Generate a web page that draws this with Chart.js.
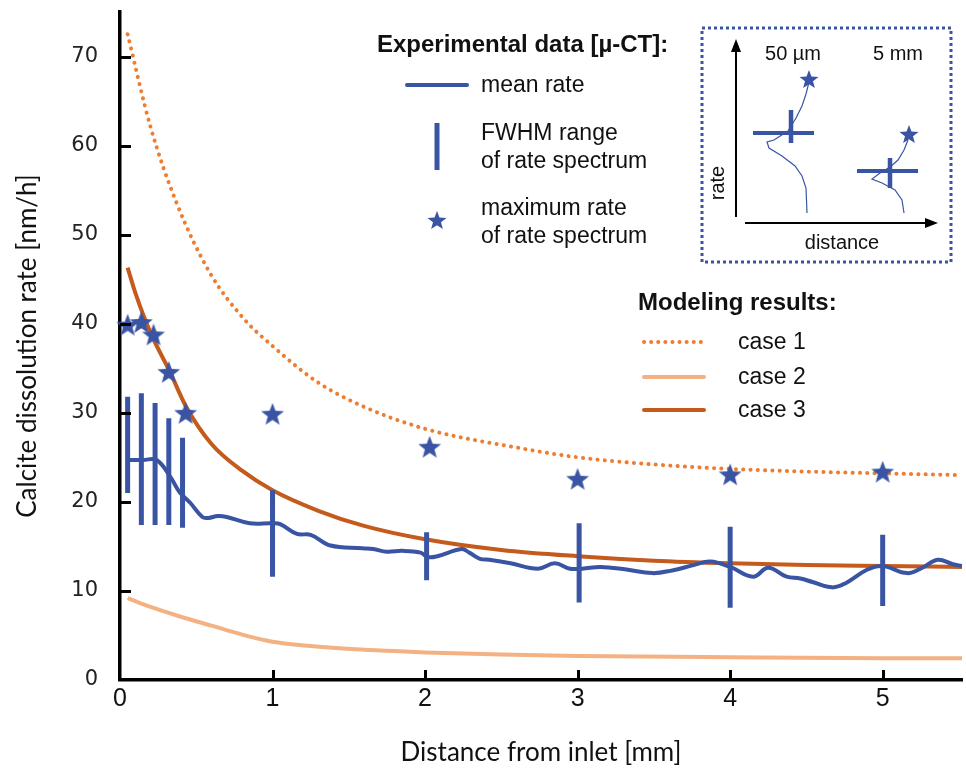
<!DOCTYPE html>
<html>
<head>
<meta charset="utf-8">
<script src="https://cdn.jsdelivr.net/npm/chart.js@4.4.1/dist/chart.umd.min.js"></script>
<style>
  body { margin: 0; background: #fff; }
  #wrap { width: 966px; height: 774px; }
</style>
</head>
<body>
<div id="wrap"><canvas id="rateChart" width="966" height="774"></canvas></div>
<script>
// values (x in mm, y in nm/h)
const case1X = [0.05, 0.2, 0.37, 0.59, 0.82, 1.0, 1.29, 1.57, 2.0, 2.6, 3.0, 3.5, 4.0, 4.5, 5.0, 5.52];
const case1Y = [72.5, 62.1, 53.6, 45.7, 40.4, 37.5, 33.5, 30.9, 28.2, 26.1, 25.0, 24.2, 23.7, 23.4, 23.2, 23.0];

const case2X = [0.05, 0.2, 0.4, 0.6, 0.8, 1.0, 1.5, 2.0, 2.5, 3.0, 4.0, 5.0, 5.52];
const case2Y = [9.2, 8.2, 7.1, 6.1, 5.1, 4.3, 3.5, 3.1, 2.85, 2.7, 2.55, 2.45, 2.45];

const case3X = [0.05, 0.1, 0.2, 0.33, 0.43, 0.6, 0.8, 1.0, 1.3, 1.6, 2.0, 2.5, 3.0, 3.5, 4.0, 4.5, 5.0, 5.52];
const case3Y = [46.3, 43.5, 39.0, 34.5, 30.8, 26.5, 23.5, 21.3, 19.0, 17.3, 15.8, 14.6, 13.9, 13.4, 13.1, 12.9, 12.8, 12.7];

const meanX = [0.05, 0.15, 0.24, 0.33, 0.39, 0.46, 0.54, 0.58, 0.64, 0.7, 0.85, 1.0, 1.05, 1.16, 1.25, 1.38, 1.59, 1.66,
  1.75, 1.85, 1.97, 2.02, 2.08, 2.24, 2.29, 2.36, 2.42, 2.56, 2.74, 2.85, 2.95, 3.03, 3.15, 3.32, 3.49, 3.62, 3.76,
  3.87, 4.0, 4.15, 4.25, 4.37, 4.46, 4.54, 4.67, 4.76, 4.9, 5.0, 5.16, 5.26, 5.36, 5.46, 5.52];
const meanY = [24.7, 24.7, 24.7, 22.8, 21.1, 19.9, 18.3, 18.2, 18.4, 18.3, 17.6, 17.6, 17.5, 16.4, 16.3, 15.1, 14.8, 14.7,
  14.4, 14.5, 14.3, 13.8, 13.9, 14.7, 14.3, 13.6, 13.5, 13.1, 12.5, 13.1, 12.5, 12.5, 12.7, 12.4, 12.0, 12.3, 12.9,
  13.3, 12.7, 11.6, 12.6, 11.6, 11.4, 11.0, 10.4, 10.9, 12.4, 12.8, 12.0, 12.6, 13.5, 13.0, 12.8];

const fwhmX = [0.05, 0.14, 0.23, 0.32, 0.41, 1.0, 2.01, 3.01, 4.0, 5.0];
const fwhmLow = [21.0, 17.4, 17.4, 17.4, 17.1, 11.6, 11.2, 8.7, 8.1, 8.3];
const fwhmHigh = [31.8, 32.2, 31.1, 29.4, 27.2, 21.3, 16.6, 17.6, 17.2, 16.3];

const maxX = [0.05, 0.14, 0.22, 0.32, 0.43, 1.0, 2.03, 3.0, 4.0, 5.0];
const maxY = [39.9, 40.2, 38.8, 34.6, 30.0, 29.9, 26.2, 22.6, 23.1, 23.4];

const xTicks = [0, 1, 2, 3, 4, 5];
const yTicks = [0, 10, 20, 30, 40, 50, 60, 70];

const BLUE = '#3a54a4';
const ORANGE = '#ef7d31';
const LIGHT = '#f4b183';
const DARK = '#c55a1d';

const toPoints = (xs, ys) => xs.map((x, i) => ({ x: x, y: ys[i] }));

// each FWHM bar is its own segment, separated by a gap
const fwhmPoints = [];
fwhmX.forEach((x, i) => {
    fwhmPoints.push({ x: x, y: fwhmLow[i] });
    fwhmPoints.push({ x: x, y: fwhmHigh[i] });
    fwhmPoints.push({ x: x, y: null });
});

const drawStar = (g, cx, cy, r, color) => {
    const inner = r * 0.42;
    g.beginPath();
    for (let k = 0; k < 10; k++) {
        const rad = k % 2 === 0 ? r : inner;
        const a = -Math.PI / 2 + k * Math.PI / 5;
        const px = cx + rad * Math.cos(a);
        const py = cy + rad * Math.sin(a);
        if (k === 0) g.moveTo(px, py); else g.lineTo(px, py);
    }
    g.closePath();
    g.fillStyle = color;
    g.fill();
};

const makeStar = (size) => {
    const c = document.createElement('canvas');
    c.width = size;
    c.height = size;
    drawStar(c.getContext('2d'), size / 2, size / 2 + size * 0.05, size / 2, BLUE);
    return c;
};

const starImg = makeStar(24);

// inset sketches (schematic, relative to inset origin)
const sketch1 = [[105, 185], [104, 160], [100, 148], [93, 138], [80, 128], [67, 120], [65, 114], [72, 112], [86, 103], [94, 90], [100, 78], [104, 66], [107, 54]];
const sketch2 = [[202, 185], [200, 172], [193, 162], [180, 155], [170, 151], [178, 145], [188, 139], [196, 132], [202, 122], [206, 112]];

const overlayPlugin = {
    id: 'overlay',
    afterDraw(chart) {
        const ctx = chart.ctx;
        const xs = chart.scales.x;
        const ys = chart.scales.y;
        const area = chart.chartArea;
        ctx.save();

        // inward tick marks
        ctx.strokeStyle = '#000';
        ctx.lineWidth = 3;
        yTicks.slice(1).forEach(v => {
            const py = Math.round(ys.getPixelForValue(v)) + 0.5;
            ctx.beginPath();
            ctx.moveTo(area.left, py);
            ctx.lineTo(area.left + 11, py);
            ctx.stroke();
        });
        xTicks.slice(1).forEach(v => {
            const px = Math.round(xs.getPixelForValue(v)) + 0.5;
            ctx.beginPath();
            ctx.moveTo(px, area.bottom);
            ctx.lineTo(px, area.bottom - 10);
            ctx.stroke();
        });

        // experimental legend
        ctx.fillStyle = '#111';
        ctx.textBaseline = 'middle';
        ctx.textAlign = 'left';
        ctx.font = 'bold 24px "Liberation Sans", Arial, sans-serif';
        ctx.fillText('Experimental data [µ-CT]:', 377, 45);
        ctx.font = '23px "Liberation Sans", Arial, sans-serif';
        ctx.fillText('mean rate', 481, 86);
        ctx.fillText('FWHM range', 481, 134);
        ctx.fillText('of rate spectrum', 481, 162);
        ctx.fillText('maximum rate', 481, 209);
        ctx.fillText('of rate spectrum', 481, 237);

        ctx.lineCap = 'round';
        ctx.strokeStyle = BLUE;
        ctx.lineWidth = 4;
        ctx.beginPath();
        ctx.moveTo(407, 85);
        ctx.lineTo(467, 85);
        ctx.stroke();
        ctx.lineCap = 'butt';
        ctx.lineWidth = 5;
        ctx.beginPath();
        ctx.moveTo(437, 123);
        ctx.lineTo(437, 170);
        ctx.stroke();
        drawStar(ctx, 437, 221, 10, BLUE);

        // modelling legend
        ctx.fillStyle = '#111';
        ctx.font = 'bold 24px "Liberation Sans", Arial, sans-serif';
        ctx.fillText('Modeling results:', 638, 303);
        ctx.font = '23px "Liberation Sans", Arial, sans-serif';
        ctx.fillText('case 1', 738, 343);
        ctx.fillText('case 2', 738, 378);
        ctx.fillText('case 3', 738, 411);

        ctx.lineWidth = 4;
        ctx.lineCap = 'round';
        ctx.strokeStyle = ORANGE;
        ctx.setLineDash([0.1, 7]);
        ctx.beginPath();
        ctx.moveTo(644, 342);
        ctx.lineTo(704, 342);
        ctx.stroke();
        ctx.setLineDash([]);
        ctx.strokeStyle = LIGHT;
        ctx.beginPath();
        ctx.moveTo(644, 377);
        ctx.lineTo(704, 377);
        ctx.stroke();
        ctx.strokeStyle = DARK;
        ctx.beginPath();
        ctx.moveTo(644, 410);
        ctx.lineTo(704, 410);
        ctx.stroke();

        // inset box
        const ox = 702, oy = 28;
        ctx.lineCap = 'butt';
        ctx.strokeStyle = BLUE;
        ctx.lineWidth = 3;
        ctx.setLineDash([3, 3]);
        ctx.strokeRect(ox, oy, 249, 234);
        ctx.setLineDash([]);

        // inset axes with arrows
        ctx.strokeStyle = '#000';
        ctx.fillStyle = '#000';
        ctx.lineWidth = 2;
        ctx.beginPath();
        ctx.moveTo(ox + 34, oy + 189);
        ctx.lineTo(ox + 34, oy + 22);
        ctx.stroke();
        ctx.beginPath();
        ctx.moveTo(ox + 34, oy + 11);
        ctx.lineTo(ox + 29, oy + 24);
        ctx.lineTo(ox + 39, oy + 24);
        ctx.closePath();
        ctx.fill();
        ctx.beginPath();
        ctx.moveTo(ox + 43, oy + 195);
        ctx.lineTo(ox + 224, oy + 195);
        ctx.stroke();
        ctx.beginPath();
        ctx.moveTo(ox + 236, oy + 195);
        ctx.lineTo(ox + 223, oy + 190);
        ctx.lineTo(ox + 223, oy + 200);
        ctx.closePath();
        ctx.fill();

        ctx.font = '20px "Liberation Sans", Arial, sans-serif';
        ctx.textAlign = 'center';
        ctx.fillStyle = '#111';
        ctx.fillText('50 µm', ox + 91, oy + 26);
        ctx.fillText('5 mm', ox + 196, oy + 26);
        ctx.fillText('distance', ox + 140, oy + 215);
        ctx.save();
        ctx.translate(ox + 16, oy + 155);
        ctx.rotate(-Math.PI / 2);
        ctx.fillText('rate', 0, 0);
        ctx.restore();

        // inset spectra
        ctx.strokeStyle = BLUE;
        ctx.lineWidth = 1.2;
        [sketch1, sketch2].forEach(s => {
            ctx.beginPath();
            s.forEach((p, i) => {
                if (i === 0) ctx.moveTo(ox + p[0], oy + p[1]); else ctx.lineTo(ox + p[0], oy + p[1]);
            });
            ctx.stroke();
        });
        ctx.lineWidth = 4;
        ctx.beginPath();
        ctx.moveTo(ox + 51, oy + 105);
        ctx.lineTo(ox + 112, oy + 105);
        ctx.moveTo(ox + 155, oy + 143);
        ctx.lineTo(ox + 216, oy + 143);
        ctx.stroke();
        ctx.lineWidth = 4.5;
        ctx.beginPath();
        ctx.moveTo(ox + 89, oy + 82);
        ctx.lineTo(ox + 89, oy + 115);
        ctx.moveTo(ox + 188, oy + 130);
        ctx.lineTo(ox + 188, oy + 160);
        ctx.stroke();
        drawStar(ctx, ox + 107, oy + 52, 10, BLUE);
        drawStar(ctx, ox + 207, oy + 107, 10, BLUE);

        ctx.restore();
    }
};

const ctx = document.getElementById('rateChart').getContext('2d');
new Chart(ctx, {
    type: 'line',
    data: {
        datasets: [
            {
                label: 'maximum rate',
                data: toPoints(maxX, maxY),
                showLine: false,
                pointStyle: starImg,
                pointRadius: 12,
                clip: false,
                order: 0
            },
            {
                label: 'FWHM range',
                data: fwhmPoints,
                borderColor: BLUE,
                borderWidth: 5,
                borderCapStyle: 'butt',
                pointRadius: 0,
                spanGaps: false,
                order: 1
            },
            {
                label: 'mean rate',
                data: toPoints(meanX, meanY),
                borderColor: BLUE,
                borderWidth: 4,
                pointRadius: 0,
                tension: 0.4,
                order: 2
            },
            {
                label: 'case 3',
                data: toPoints(case3X, case3Y),
                borderColor: DARK,
                borderWidth: 4,
                pointRadius: 0,
                cubicInterpolationMode: 'monotone',
                order: 3
            },
            {
                label: 'case 2',
                data: toPoints(case2X, case2Y),
                borderColor: LIGHT,
                borderWidth: 4,
                pointRadius: 0,
                cubicInterpolationMode: 'monotone',
                order: 4
            },
            {
                label: 'case 1',
                data: toPoints(case1X, case1Y),
                borderColor: ORANGE,
                borderWidth: 4,
                borderDash: [0.1, 7.2],
                borderCapStyle: 'round',
                pointRadius: 0,
                cubicInterpolationMode: 'monotone',
                order: 5
            }
        ]
    },
    options: {
        responsive: false,
        animation: false,
        layout: {
            autoPadding: false,
            padding: { top: 12, right: 4, left: 0, bottom: 0 }
        },
        scales: {
            x: {
                type: 'linear',
                min: 0,
                max: 5.52,
                afterFit: scale => {
                    scale.height = 94;
                    scale.paddingLeft = 0;
                    scale.paddingRight = 0;
                },
                afterBuildTicks: scale => { scale.ticks = xTicks.map(v => ({ value: v })); },
                ticks: {
                    color: '#111',
                    padding: 4,
                    font: { family: '"Liberation Sans Narrow", "Liberation Sans", sans-serif', size: 25 }
                },
                grid: { display: false, drawTicks: false },
                border: { display: true, color: '#000', width: 3.5 },
                title: {
                    display: true,
                    text: 'Distance from inlet [mm]',
                    color: '#111',
                    padding: { top: 0, bottom: 6 },
                    font: { family: 'Lato, sans-serif', size: 26 }
                }
            },
            y: {
                min: 0,
                max: 75,
                afterFit: scale => {
                    scale.width = 120;
                    scale.paddingTop = 0;
                    scale.paddingBottom = 0;
                },
                afterBuildTicks: scale => { scale.ticks = yTicks.map(v => ({ value: v })); },
                ticks: {
                    color: '#222',
                    padding: 22,
                    font: { family: '"DejaVu Sans", sans-serif', size: 21 }
                },
                grid: { display: false, drawTicks: false },
                border: { display: true, color: '#000', width: 3.5 },
                title: {
                    display: true,
                    text: 'Calcite dissolution rate [nm/h]',
                    color: '#111',
                    padding: { top: 12, bottom: 0 },
                    font: { family: 'Lato, sans-serif', size: 26 }
                }
            }
        },
        plugins: {
            legend: { display: false },
            tooltip: { enabled: false }
        }
    },
    plugins: [overlayPlugin]
});
</script>
</body>
</html>
